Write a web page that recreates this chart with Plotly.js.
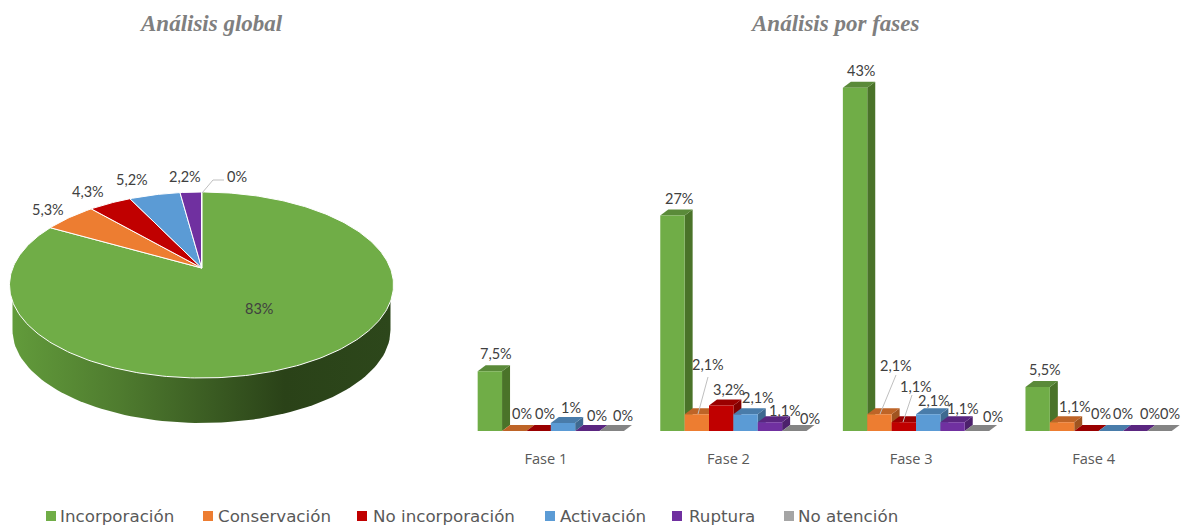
<!DOCTYPE html>
<html>
<head>
<meta charset="utf-8">
<script src="https://cdn.plot.ly/plotly-3.0.1.min.js"></script>
<style>html,body{margin:0;padding:0;background:#fff}#chart{width:1185px;height:529px}</style>
</head>
<body>
<div id="chart"></div>
<script>
// ---- data ----
const seriesNames = ['Incorporación','Conservación','No incorporación','Activación','Ruptura','No atención'];
const phases = ['Fase 1','Fase 2','Fase 3','Fase 4'];
const incorporacion   = [7.5, 27, 43, 5.5];
const conservacion    = [0, 2.1, 2.1, 1.1];
const noIncorporacion = [0, 3.2, 1.1, 0];
const activacion      = [1, 2.1, 2.1, 0];
const ruptura         = [0, 1.1, 1.1, 0];
const noAtencion      = [0, 0, 0, 0];
const pieValues = [83, 5.3, 4.3, 5.2, 2.2, 0];

// ---- styles ----
const frontColors = ['#70AD47','#ED7D31','#C00000','#5B9BD5','#7030A0','#A5A5A5'];
const topColors   = ['#5A8A39','#BE6427','#9A0000','#497CAA','#5A2680','#848484'];
const sideColors  = ['#4A7329','#A05420','#820000','#3E6990','#4C206C','#707070'];
const W = 1185, H = 529;
const textColor = '#404040';
const labelFont = {family:'Lato, "Open Sans", sans-serif', size:14.5, color:textColor};
const legendFont = {family:'"DejaVu Sans", sans-serif', size:16.7, color:'#595959'};
const titleFont = {family:'"Liberation Serif", serif', size:23, color:'#7F7F7F'};

// ---- layout geometry ----
const barSeries = [incorporacion, conservacion, noIncorporacion, activacion, ruptura, noAtencion];
const pxPerUnit = 7.98, baseY = 431, plotTopY = 20;
const groupPitch = 182.8, firstCenterX = 546;
const barW = 24.4 / groupPitch, barStart = (477.7 - firstCenterX) / groupPitch;
const depthX = 8 / groupPitch, depthY = 6 / pxPerUnit;
// pie projection
const pie = {cx:201.5, cy:285, rx:192, ry:93, apexX:201.7, apexY:268, k:0.484, wallRx:189, wallDrop:45};
// label centres in page pixels, one row per series, one column per phase
const barLabelX = [[496,679,861,1045],[522,708,896,1075],[545,729,916,1101],[571,758,934,1123],[597,785,963,1150],[623,810,993,1170]];
const barLabelY = [[353,198,71,369],[413,364,366,406],[413,389,386,413],[407,397,400,413],[415,410,408,413],[415,418,416,413]];
const pieLabelX = [259,48,88,132,185,237];
const pieLabelY = [308,209,191,179,176,176];
const leaders = [[708,377,698,414],[896,375,880,414],[912,395,903,422]];
const legendSwatchX = [46,203,357,545,672,784];
const legendTextX = [60,218,373,560,689,798];
const legendY = 516;

const px = x => x / W, py = y => 1 - y / H;
const fmt = v => String(v).replace('.', ',') + '%';

// ---- bars: fronts through the axis, depth faces from the same values ----
const traces = [];
const shapes = [];
barSeries.forEach((vals, s) => {
  const offset = barStart + s * barW;
  traces.push({type:'bar', name:seriesNames[s], x:phases.map((_, i) => i), y:vals,
    offset:offset, width:barW, marker:{color:frontColors[s], line:{width:0}},
    xaxis:'x', yaxis:'y', showlegend:false, hovertemplate:'%{y}%<extra>'+seriesNames[s]+'</extra>'});
  vals.forEach((v, i) => {
    const l = i + offset, r = l + barW;
    if (v > 0) shapes.push({type:'path', xref:'x', yref:'y', layer:'below', line:{width:0}, fillcolor:sideColors[s],
      path:`M${r},0 L${r+depthX},${depthY} L${r+depthX},${v+depthY} L${r},${v} Z`});
    shapes.push({type:'path', xref:'x', yref:'y', layer:'below', line:{width:0}, fillcolor:topColors[s],
      path:`M${l},${v} L${r},${v} L${r+depthX},${v+depthY} L${l+depthX},${v+depthY} Z`});
  });
});

// ---- pie ----
function rimPoint(fraction) {
  const th = fraction * 2 * Math.PI;
  const dx = Math.sin(th) / pie.rx, dy = -pie.k * Math.cos(th) / pie.ry;
  const p = (pie.apexY - pie.cy) / pie.ry, q = (pie.apexX - pie.cx) / pie.rx;
  const a = dx*dx + dy*dy, b = q*dx + p*dy, c = q*q + p*p - 1;
  const t = (-b + Math.sqrt(b*b - a*c)) / a;
  return [pie.cx + pie.rx * (q + t*dx), pie.cy + pie.ry * (p + t*dy)];
}
// side wall
const wallX = [], wallY = [];
for (let d = 0; d <= 180; d += 2) {
  const a = d * Math.PI / 180;
  wallX.push(pie.cx + pie.wallRx * Math.cos(a));
  wallY.push(pie.cy + pie.wallDrop + pie.ry * Math.sin(a));
}
wallX.push(pie.cx - pie.wallRx, pie.cx + pie.wallRx);
wallY.push(pie.cy, pie.cy);
traces.push({type:'scatter', mode:'lines', x:wallX, y:wallY, xaxis:'x2', yaxis:'y2', fill:'toself',
  line:{width:0, color:'rgba(0,0,0,0)'}, hoverinfo:'skip', showlegend:false,
  fillgradient:{type:'horizontal', colorscale:[[0,'#629B3B'],[0.28,'#4F7C2F'],[0.72,'#2A4218'],[1,'#2D471B']]}});
// slices
const total = pieValues.reduce((a, b) => a + b, 0);
let cum = 0;
pieValues.forEach((v, s) => {
  const start = cum / total, end = (cum + v) / total;
  cum += v;
  const xs = [pie.apexX], ys = [pie.apexY];
  const n = Math.max(1, Math.ceil((end - start) * 360));
  for (let i = 0; i <= n; i++) {
    const pt = rimPoint(start + (end - start) * i / n);
    xs.push(pt[0]); ys.push(pt[1]);
  }
  xs.push(pie.apexX); ys.push(pie.apexY);
  traces.push({type:'scatter', mode:'lines', x:xs, y:ys, xaxis:'x2', yaxis:'y2', fill:'toself', fillcolor:frontColors[s],
    line:{color:'#FFFFFF', width:1}, name:seriesNames[s], showlegend:false, hoverinfo:'name'});
});

// ---- annotations ----
const annotations = [];
const addText = (t, x, y, font, xanchor) => annotations.push({text:t, xref:'paper', yref:'paper', x:px(x), y:py(y),
  xanchor:xanchor||'center', yanchor:'middle', showarrow:false, font:font, borderpad:0, borderwidth:0});
addText('<b><i>Análisis global</i></b>', 211, 24, titleFont);
addText('<b><i>Análisis por fases</i></b>', 834, 24, titleFont);
barSeries.forEach((vals, s) => vals.forEach((v, i) => addText(fmt(v), barLabelX[s][i], barLabelY[s][i], labelFont)));
pieValues.forEach((v, s) => addText(fmt(v), pieLabelX[s], pieLabelY[s], labelFont));
seriesNames.forEach((n, s) => {
  addText(n, legendTextX[s], legendY, legendFont, 'left');
  shapes.push({type:'rect', xref:'paper', yref:'paper', x0:px(legendSwatchX[s]), x1:px(legendSwatchX[s]+10),
    y0:py(legendY-5), y1:py(legendY+5), fillcolor:frontColors[s], line:{width:0}});
});
leaders.forEach(l => shapes.push({type:'line', xref:'paper', yref:'paper', x0:px(l[0]), y0:py(l[1]), x1:px(l[2]), y1:py(l[3]),
  line:{color:'#BFBFBF', width:1}}));
shapes.push({type:'path', xref:'x2', yref:'y2', path:'M202,193 L213,180 L224,180', line:{color:'#BFBFBF', width:1}});

const layout = {
  width:W, height:H, margin:{l:0,r:0,t:0,b:0}, paper_bgcolor:'#fff', plot_bgcolor:'rgba(0,0,0,0)',
  showlegend:false, barmode:'group',
  xaxis:{domain:[px(firstCenterX - groupPitch/2), px(firstCenterX + 3.5*groupPitch)], range:[-0.5,3.5],
    tickmode:'array', tickvals:phases.map((_, i) => i), ticktext:phases, showgrid:false, zeroline:false, showline:false,
    ticks:'outside', ticklen:14, tickcolor:'rgba(0,0,0,0)', tickfont:{family:'"Open Sans", sans-serif', size:14.6, color:'#595959'}, anchor:'y', fixedrange:true},
  yaxis:{domain:[py(baseY), py(plotTopY)], range:[0,(baseY-plotTopY)/pxPerUnit], visible:false, anchor:'x', fixedrange:true},
  xaxis2:{domain:[0, px(420)], range:[0,420], visible:false, anchor:'y2', fixedrange:true},
  yaxis2:{domain:[0,1], range:[H,0], visible:false, anchor:'x2', fixedrange:true},
  shapes:shapes, annotations:annotations
};
Plotly.newPlot('chart', traces, layout, {displayModeBar:false, responsive:false});
</script>
</body>
</html>
